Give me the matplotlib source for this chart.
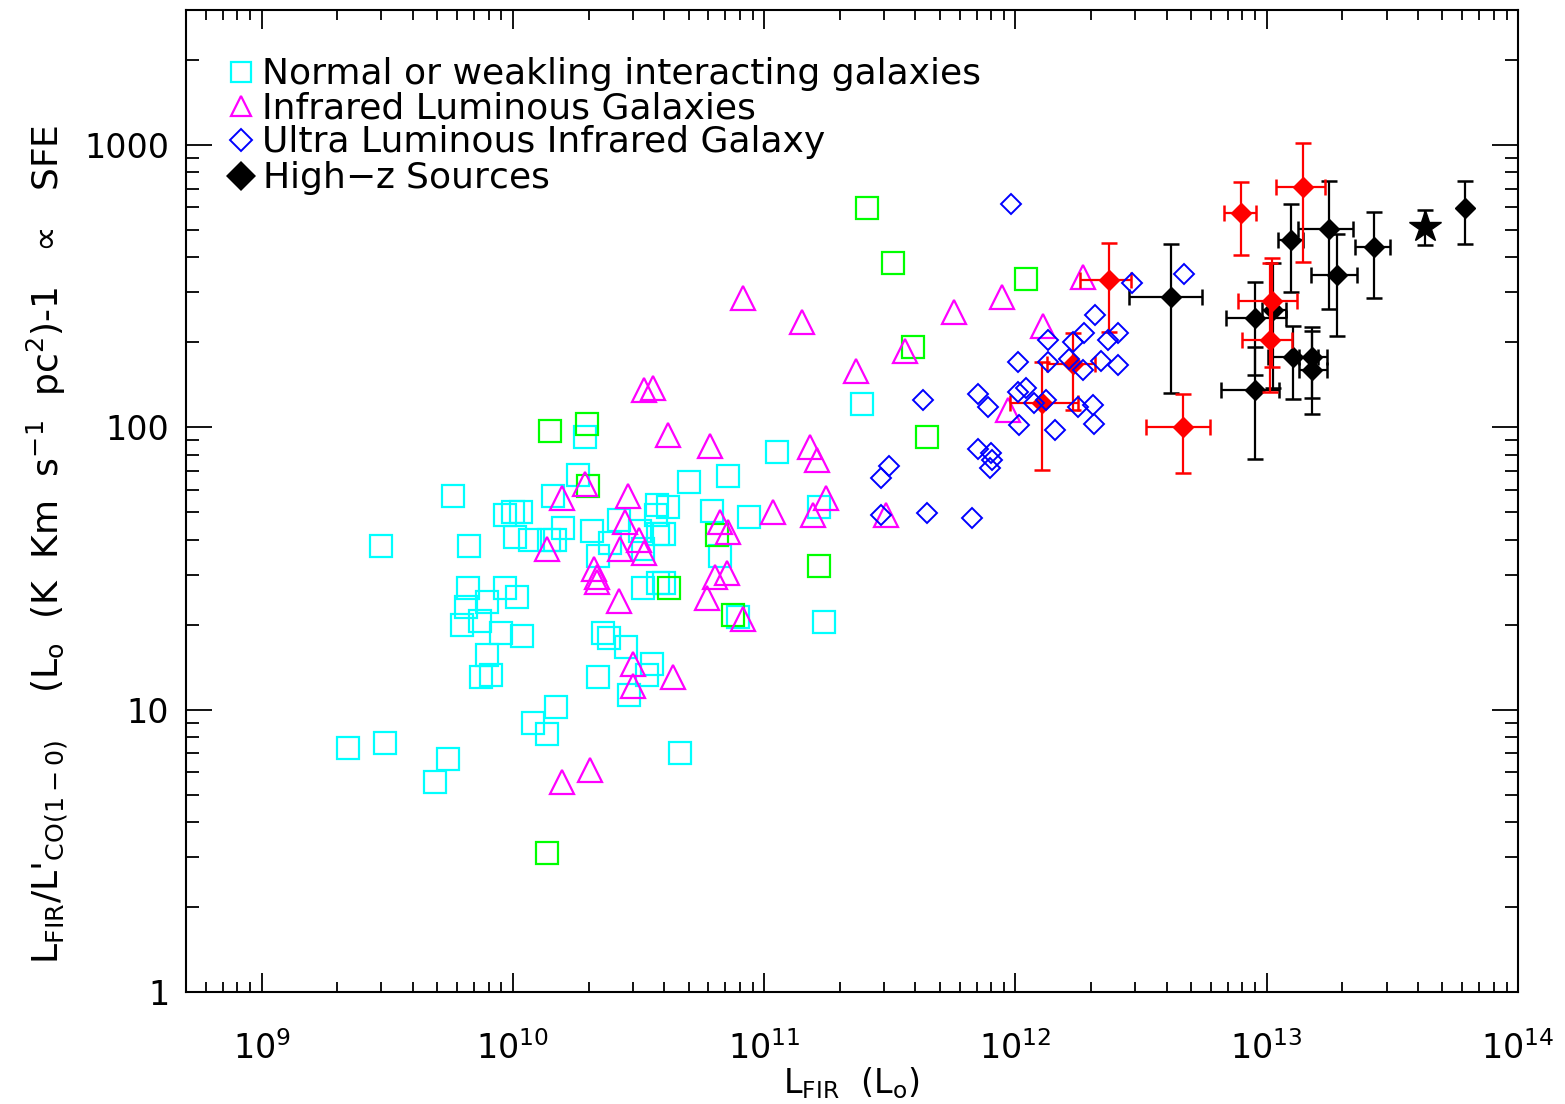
import numpy as np
import matplotlib.pyplot as plt
from matplotlib.lines import Line2D

# normal or weakly interacting galaxies (cyan squares)
norm_lfir = [2.2e9, 3.1e9, 3.0e9, 4.9e9, 5.5e9, 5.8e9, 6.7e9, 6.6e9, 9.3e9, 1.04e10,
             6.5e9, 7.9e9, 6.3e9, 7.4e9, 9.0e9, 1.09e10, 7.9e9, 7.5e9, 8.2e9, 1.0e10,
             1.08e10, 9.3e9, 1.02e10, 1.17e10, 1.39e10, 1.47e10, 1.58e10, 1.44e10, 1.81e10, 1.94e10,
             1.2e10, 1.37e10, 1.48e10, 2.06e10, 2.64e10, 2.18e10, 2.44e10, 3.74e10, 4.14e10, 3.7e10,
             3.78e10, 3.2e10, 3.3e10, 3.3e10, 3.78e10, 2.28e10, 2.41e10, 2.82e10, 2.18e10, 3.58e10,
             3.42e10, 2.9e10, 4.63e10, 5.0e10, 7.2e10, 6.2e10, 8.7e10, 6.7e10, 4.0e10, 4.0e10,
             7.9e10, 1.12e11, 1.66e11, 1.73e11, 2.46e11]
norm_sfe = [7.3, 7.6, 38, 5.55, 6.7, 57, 38, 27, 27, 25,
            23, 24, 20, 20.6, 18.7, 18.3, 15.6, 13.0, 13.3, 50,
            50, 49, 41, 40, 40, 40, 44, 57, 68, 92,
            9.0, 8.2, 10.2, 43, 47, 35, 39, 53, 52, 49,
            42, 43, 37, 27, 28, 18.7, 18, 16.7, 13, 14.5,
            13.3, 11.3, 7.05, 64, 67, 50.5, 48, 35, 42, 28,
            21.3, 82, 52, 20.5, 121]

# green squares (no legend entry)
green_lfir = [1.37e10, 1.40e10, 1.97e10, 1.99e10, 6.5e10, 4.2e10, 7.5e10,
              1.66e11, 2.57e11, 3.27e11, 3.92e11, 4.46e11, 1.1e12]
green_sfe = [3.1, 97, 103, 62, 41.6, 27, 21.7, 32.3, 595, 380, 193, 92, 336]

# infrared luminous galaxies (magenta triangles)
lirg_lfir = [1.57e10, 2.03e10, 1.37e10, 1.57e10, 1.94e10, 2.87e10, 2.8e10, 2.67e10, 3.17e10, 3.33e10,
             2.1e10, 2.16e10, 2.16e10, 2.64e10, 3.0e10, 3.0e10, 4.34e10, 3.33e10, 3.61e10, 4.14e10,
             6.1e10, 6.7e10, 7.2e10, 1.08e11, 6.4e10, 7.1e10, 5.9e10, 8.2e10, 8.2e10, 1.42e11,
             2.33e11, 3.64e11, 5.72e11, 8.8e11, 1.29e12, 1.85e12, 9.3e11, 1.52e11, 1.63e11, 1.77e11,
             1.57e11, 3.06e11]
lirg_sfe = [5.55, 6.1, 37, 56, 63, 57, 46, 37, 40, 36,
            31.5, 29.5, 28.4, 24.3, 14.5, 12.1, 13, 135, 138, 94,
            86, 46, 42.6, 50, 29.5, 30.4, 24.9, 21, 286, 235,
            158, 186, 255, 290, 229, 339, 115, 85, 76.5, 56,
            49, 49]

# ultra luminous infrared galaxies (blue diamonds)
ulirg_lfir = [9.6e11, 4.7e12, 2.9e12, 2.08e12, 1.88e12, 2.33e12, 2.57e12, 1.35e12, 1.69e12, 1.02e12,
              1.35e12, 1.85e12, 2.18e12, 2.57e12, 1.1e12, 1.02e12, 1.32e12, 1.18e12, 1.77e12, 2.04e12,
              2.06e12, 1.03e12, 1.44e12, 4.3e11, 7.1e11, 7.8e11, 7.1e11, 8.0e11, 8.1e11, 7.9e11,
              3.15e11, 2.93e11, 2.93e11, 4.46e11, 6.7e11, 1.63e12]
ulirg_sfe = [618, 350, 323, 249, 215, 203, 215, 203, 200, 170,
             170, 159, 172, 166, 138, 133, 125, 122, 118, 120,
             103, 102, 97.7, 125, 131, 118, 84, 81, 76.5, 72,
             73, 66, 49, 49.7, 47.7, 175]

# high-z sources, red subset
red_lfir = [2.35e12, 1.69e12, 1.28e12, 4.63e12, 7.9e12, 1.40e13, 1.05e13, 1.03e13]
red_lfir_lo = [1.81e12, 1.34e12, 9.55e11, 3.30e12, 6.75e12, 1.09e13, 7.7e12, 8.0e12]
red_lfir_hi = [2.88e12, 2.08e12, 1.77e12, 5.97e12, 9.05e12, 1.70e13, 1.32e13, 1.26e13]
red_sfe = [333, 168, 122, 100, 575, 706, 279, 203]
red_sfe_lo = [217, 115, 70.5, 68.8, 408, 386, 164, 133]
red_sfe_hi = [450, 215, 170, 131, 741, 1016, 396, 380]

# high-z sources, black
hz_lfir = [4.14e12, 8.96e12, 8.96e12, 1.06e13, 1.25e13, 1.77e13, 1.90e13, 2.67e13, 1.27e13, 1.51e13, 1.51e13]
hz_lfir_lo = [2.82e12, 6.87e12, 6.55e12, 9.6e12, 1.11e13, 1.33e13, 1.5e13, 2.24e13, 1.01e13, 1.34e13, 1.34e13]
hz_lfir_hi = [5.55e12, 1.19e13, 1.12e13, 1.19e13, 1.40e13, 2.2e13, 2.28e13, 3.09e13, 1.6e13, 1.73e13, 1.73e13]
hz_sfe = [288, 243, 135, 259, 461, 505, 347, 436, 177, 177, 160]
hz_sfe_lo = [132, 153, 77, 138, 302, 263, 211, 286, 126, 127, 111]
hz_sfe_hi = [446, 328, 193, 383, 618, 746, 485, 580, 229, 227, 220]

# sources with only a vertical error bar
vz_lfir = [6.15e13]
vz_sfe = [599]
vz_sfe_lo = [446]
vz_sfe_hi = [746]
star_lfir = [4.26e13]
star_sfe = [513]
star_sfe_lo = [443]
star_sfe_hi = [590]

legend_labels = ['Normal or weakling interacting galaxies', 'Infrared Luminous Galaxies',
                 'Ultra Luminous Infrared Galaxy', 'High$-$z Sources']

plt.rcParams['font.family'] = 'DejaVu Sans'
plt.rcParams['mathtext.fontset'] = 'dejavusans'
FS = 24

fig = plt.figure(figsize=(15.65, 11.04), dpi=100)
ax = fig.add_axes([0.1188, 0.1014, 0.8512, 0.8895])


def errs(c, lo, hi):
    c = np.array(c)
    return np.vstack([c - np.array(lo), np.array(hi) - c])


ebkw = dict(fmt='D', ms=10.5, capsize=6, elinewidth=1.6, capthick=1.8)
ax.errorbar(hz_lfir, hz_sfe, xerr=errs(hz_lfir, hz_lfir_lo, hz_lfir_hi),
            yerr=errs(hz_sfe, hz_sfe_lo, hz_sfe_hi), color='black', zorder=5, **ebkw)
ax.errorbar(vz_lfir, vz_sfe, yerr=errs(vz_sfe, vz_sfe_lo, vz_sfe_hi), color='black', zorder=5, **ebkw)
ax.errorbar(star_lfir, star_sfe, yerr=errs(star_sfe, star_sfe_lo, star_sfe_hi), color='black',
            fmt='*', ms=24, capsize=6, elinewidth=1.6, capthick=1.8, zorder=5)
ax.errorbar(red_lfir, red_sfe, xerr=errs(red_lfir, red_lfir_lo, red_lfir_hi),
            yerr=errs(red_sfe, red_sfe_lo, red_sfe_hi), color='red', zorder=6, **ebkw)

ax.plot(norm_lfir, norm_sfe, 's', ms=16.5, mfc='none', mec='#00ffff', mew=1.6, zorder=2)
ax.plot(green_lfir, green_sfe, 's', ms=16.5, mfc='none', mec='#00ff00', mew=1.6, zorder=3)
ax.plot(lirg_lfir, lirg_sfe, '^', ms=17, mfc='none', mec='#ff00ff', mew=1.6, zorder=4)
ax.plot(ulirg_lfir, ulirg_sfe, 'D', ms=10, mfc='none', mec='#0000ff', mew=1.4, zorder=7)

ax.set_xscale('log')
ax.set_yscale('log')
ax.set_xlim(5e8, 1e14)
ax.set_ylim(1, 3000)

ax.set_yticks([1, 10, 100, 1000])
ax.set_yticklabels(['1', '10', '100', '1000'])
ax.set_xticks([1e9, 1e10, 1e11, 1e12, 1e13, 1e14])

ax.tick_params(axis='both', which='both', direction='in', top=True, right=True, labelsize=FS, width=1.3)
ax.tick_params(axis='x', which='major', length=14, pad=28)
ax.tick_params(axis='x', which='minor', length=7)
ax.tick_params(axis='y', which='major', length=19, pad=12)
ax.tick_params(axis='y', which='minor', length=9.5)
for s in ax.spines.values():
    s.set_linewidth(1.5)

ax.set_xlabel(r"L$_{\rm FIR}$  (L$_{\rm o}$)", fontsize=FS)
ax.xaxis.label.set_va('center')
ax.xaxis.set_label_coords(0.5, -0.093)
ax.set_ylabel("L$_{\\rm FIR}$/L'$_{\\rm CO(1-0)}$    (L$_{\\rm o}$  (K  Km  s$^{-1}$  pc$^{2}$)-1   \u221d   SFE",
              fontsize=26)
ax.yaxis.label.set_va('center')
ax.yaxis.set_label_coords(-0.104, 0.456)

handles = [Line2D([], [], ls='none', marker='s', ms=15, mfc='none', mec='#00ffff', mew=1.6),
           Line2D([], [], ls='none', marker='^', ms=15, mfc='none', mec='#ff00ff', mew=1.6),
           Line2D([], [], ls='none', marker='D', ms=11, mfc='none', mec='#0000ff', mew=1.4),
           Line2D([], [], ls='none', marker='D', ms=15, color='black', mew=0)]
ax.legend(handles, legend_labels, loc='upper left', bbox_to_anchor=(0.029, 0.952), frameon=False,
          fontsize=26, handlelength=0.9, handletextpad=0.15, labelspacing=0.0,
          borderpad=0, borderaxespad=0)

fig.savefig('out.png', dpi=100)
